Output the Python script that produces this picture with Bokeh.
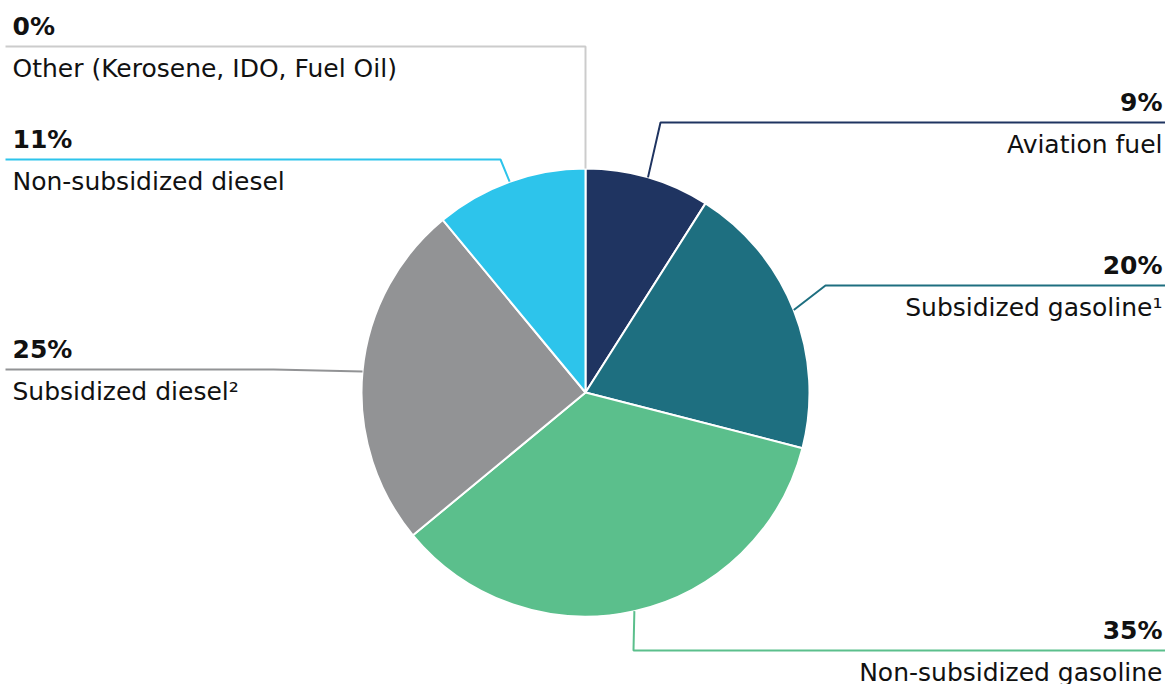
import math
from bokeh.plotting import figure
from bokeh.models import ColumnDataSource, Range1d
from bokeh.core.properties import value
from bokeh.embed import file_html
from bokeh.resources import INLINE

# ---- data ----
categories = ["Aviation fuel", "Subsidized gasoline", "Non-subsidized gasoline",
              "Subsidized diesel", "Non-subsidized diesel", "Other (Kerosene, IDO, Fuel Oil)"]
shares = [9, 20, 35, 25, 11, 0]
superscripts = ["", "1", "", "2", "", ""]
colors = ["#1f3461", "#1e6f80", "#5bbf8c", "#929395", "#2dc4eb", "#cccccc"]

# ---- layout (pixels, y measured from top) ----
W, H = 1165, 684
CX, CY, R = 585, 392, 224
label_side = ["right", "right", "right", "left", "left", "left"]
label_line_y = [122, 285, 650, 369, 159, 46]
elbow_x = [660, 825, 633, 273, 500, 585]

FONT = "DejaVu Sans"
FS = "25px"

def Y(ypx):
    return H - ypx

p = figure(width=W, height=H, output_backend="svg", toolbar_location=None,
           x_range=Range1d(0, W), y_range=Range1d(0, H), min_border=0)
p.axis.visible = False
p.grid.visible = False
p.outline_line_color = None
p.background_fill_color = "white"

total = float(sum(shares))
cum = 0.0
starts, ends, mids = [], [], []
for s in shares:
    a0 = math.pi / 2 - 2 * math.pi * cum / total
    cum += s
    a1 = math.pi / 2 - 2 * math.pi * cum / total
    starts.append(a1)
    ends.append(a0)
    mids.append((a0 + a1) / 2)

keep = [i for i, s in enumerate(shares) if s > 0]
src = ColumnDataSource(dict(start=[starts[i] for i in keep],
                            end=[ends[i] for i in keep],
                            color=[colors[i] for i in keep]))
p.wedge(x=CX, y=Y(CY), radius=R, start_angle="start", end_angle="end",
        direction="anticlock", fill_color="color", line_color="white",
        line_width=2, source=src)

for i, cat in enumerate(categories):
    ex = CX + R * math.cos(mids[i])
    ey = Y(CY) + R * math.sin(mids[i])
    ly = Y(label_line_y[i])
    if label_side[i] == "right":
        xs = [ex, elbow_x[i], W]
        tx, align = W - 3, "right"
    else:
        xs = [ex, elbow_x[i], 5]
        tx, align = 12, "left"
    p.line(xs, [ey, ly, ly], line_color=colors[i], line_width=2)
    p.text(x=[tx], y=[ly + 20], text=[f"{shares[i]}%"], text_align=align,
           text_baseline="alphabetic", text_font=value(FONT), text_font_size=FS,
           text_font_style="bold", text_color="#111111")
    lab = cat
    if superscripts[i]:
        sup = {"1": "\u00b9", "2": "\u00b2"}[superscripts[i]]
        lab = cat + sup
    p.text(x=[tx], y=[ly - 22], text=[lab], text_align=align,
           text_baseline="alphabetic", text_font=value(FONT), text_font_size=FS,
           text_color="#111111")

open("out.html", "w").write(file_html(p, INLINE))
